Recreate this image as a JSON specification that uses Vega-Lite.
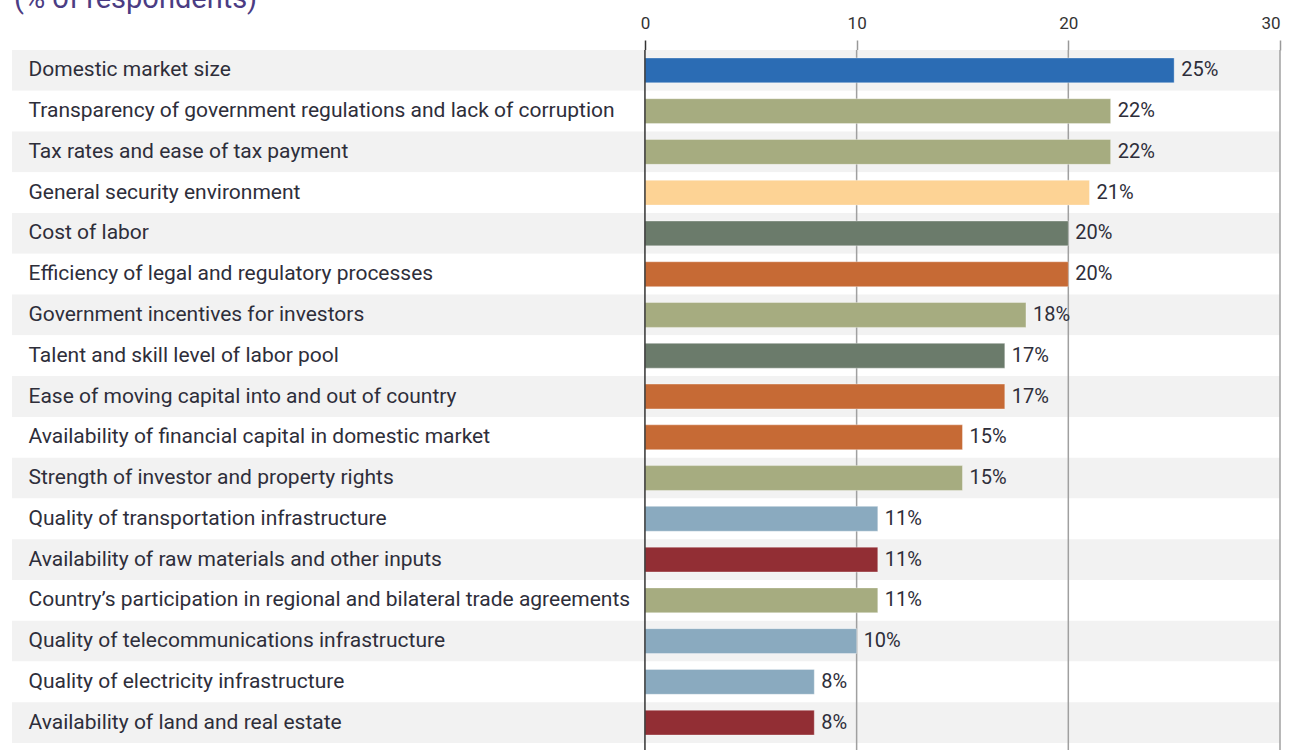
{
  "$schema": "https://vega.github.io/schema/vega-lite/v6.json",
  "width": 1268,
  "height": 700,
  "autosize": {"type": "none"},
  "padding": {"left": 12, "top": 50, "right": 11, "bottom": 0},
  "background": "white",
  "config": {"view": {"stroke": null}, "font": "Roboto"},
  "title": {"text": "(% of respondents)", "anchor": "start", "frame": "group", "fontSize": 29, "fontWeight": "normal", "color": "#4b3c83", "font": "Roboto", "offset": 0, "dx": 2},
  "data": {"values": [
    {"factor": "Domestic market size", "share": 25, "group": "market"},
    {"factor": "Transparency of government regulations and lack of corruption", "share": 22, "group": "governance"},
    {"factor": "Tax rates and ease of tax payment", "share": 22, "group": "governance"},
    {"factor": "General security environment", "share": 21, "group": "security"},
    {"factor": "Cost of labor", "share": 20, "group": "labor"},
    {"factor": "Efficiency of legal and regulatory processes", "share": 20, "group": "finance"},
    {"factor": "Government incentives for investors", "share": 18, "group": "governance"},
    {"factor": "Talent and skill level of labor pool", "share": 17, "group": "labor"},
    {"factor": "Ease of moving capital into and out of country", "share": 17, "group": "finance"},
    {"factor": "Availability of financial capital in domestic market", "share": 15, "group": "finance"},
    {"factor": "Strength of investor and property rights", "share": 15, "group": "governance"},
    {"factor": "Quality of transportation infrastructure", "share": 11, "group": "infrastructure"},
    {"factor": "Availability of raw materials and other inputs", "share": 11, "group": "resources"},
    {"factor": "Country’s participation in regional and bilateral trade agreements", "share": 11, "group": "governance"},
    {"factor": "Quality of telecommunications infrastructure", "share": 10, "group": "infrastructure"},
    {"factor": "Quality of electricity infrastructure", "share": 8, "group": "infrastructure"},
    {"factor": "Availability of land and real estate", "share": 8, "group": "resources"}
  ]},
  "layer": [
    {
      "transform": [{"window": [{"op": "row_number", "as": "idx"}]}],
      "mark": {"type": "rect"},
      "encoding": {
        "y": {"field": "factor", "type": "nominal", "sort": null,
              "scale": {"range": [0, 693], "paddingInner": 0, "paddingOuter": 0},
              "axis": {"orient": "left", "labelAlign": "left", "labelPadding": -16, "ticks": false, "domain": false, "title": null, "labelFontSize": 21, "labelColor": "#2e2e3a", "labelFont": "Roboto", "zindex": 1, "labelLimit": 0}},
        "color": {"condition": {"test": "datum.idx % 2 === 1", "value": "#f2f2f2"}, "value": "#ffffff"}
      }
    },
    {
      "data": {"values": [{"tick": 10}, {"tick": 20}, {"tick": 30}]},
      "mark": {"type": "rule", "color": "#a0a0a0", "strokeWidth": 1.5},
      "encoding": {
        "x": {"field": "tick", "type": "quantitative", "scale": {"domain": [-29.9, 30], "nice": false, "zero": false},
              "axis": {"orient": "top", "values": [0, 10, 20, 30], "tickSize": 10, "tickColor": {"condition": {"test": "datum.value === 0", "value": "#333333"}, "value": "#999999"}, "tickWidth": 1.5, "domain": false, "grid": false, "labelFontSize": 17, "labelColor": "#333333", "labelFont": "Roboto", "labelPadding": 8, "title": null}}
      }
    },
    {
      "mark": {"type": "bar", "height": {"band": 0.61}, "stroke": "#ffffff", "strokeOpacity": 0.35, "strokeWidth": 1},
      "encoding": {
        "y": {"field": "factor", "type": "nominal", "sort": null},
        "x": {"field": "share", "type": "quantitative",
              "axis": {"orient": "top", "values": [0, 10, 20, 30], "tickSize": 10, "tickColor": {"condition": {"test": "datum.value === 0", "value": "#333333"}, "value": "#999999"}, "tickWidth": 1.5, "domain": false, "grid": false, "labelFontSize": 17, "labelColor": "#333333", "labelFont": "Roboto", "labelPadding": 8, "title": null}},
        "color": {"field": "group", "type": "nominal", "legend": null,
                  "scale": {"domain": ["market", "governance", "security", "labor", "finance", "infrastructure", "resources"],
                            "range": ["#2b6cb4", "#a6ac80", "#fdd395", "#6b7b6b", "#c66a35", "#8aaabf", "#922e34"]}}
      }
    },
    {
      "mark": {"type": "text", "align": "left", "baseline": "middle", "dx": 7, "fontSize": 20, "font": "Roboto", "color": "#2e2e3a"},
      "encoding": {
        "y": {"field": "factor", "type": "nominal", "sort": null},
        "x": {"field": "share", "type": "quantitative",
              "axis": {"orient": "top", "values": [0, 10, 20, 30], "tickSize": 10, "tickColor": {"condition": {"test": "datum.value === 0", "value": "#333333"}, "value": "#999999"}, "tickWidth": 1.5, "domain": false, "grid": false, "labelFontSize": 17, "labelColor": "#333333", "labelFont": "Roboto", "labelPadding": 8, "title": null}},
        "text": {"value": {"expr": "datum.share + '%'"}}
      }
    },
    {
      "data": {"values": [{"tick": 0}]},
      "mark": {"type": "rule", "color": "#333333", "strokeWidth": 1.5},
      "encoding": {"x": {"field": "tick", "type": "quantitative",
              "axis": {"orient": "top", "values": [0, 10, 20, 30], "tickSize": 10, "tickColor": {"condition": {"test": "datum.value === 0", "value": "#333333"}, "value": "#999999"}, "tickWidth": 1.5, "domain": false, "grid": false, "labelFontSize": 17, "labelColor": "#333333", "labelFont": "Roboto", "labelPadding": 8, "title": null}}}
    }
  ]
}
